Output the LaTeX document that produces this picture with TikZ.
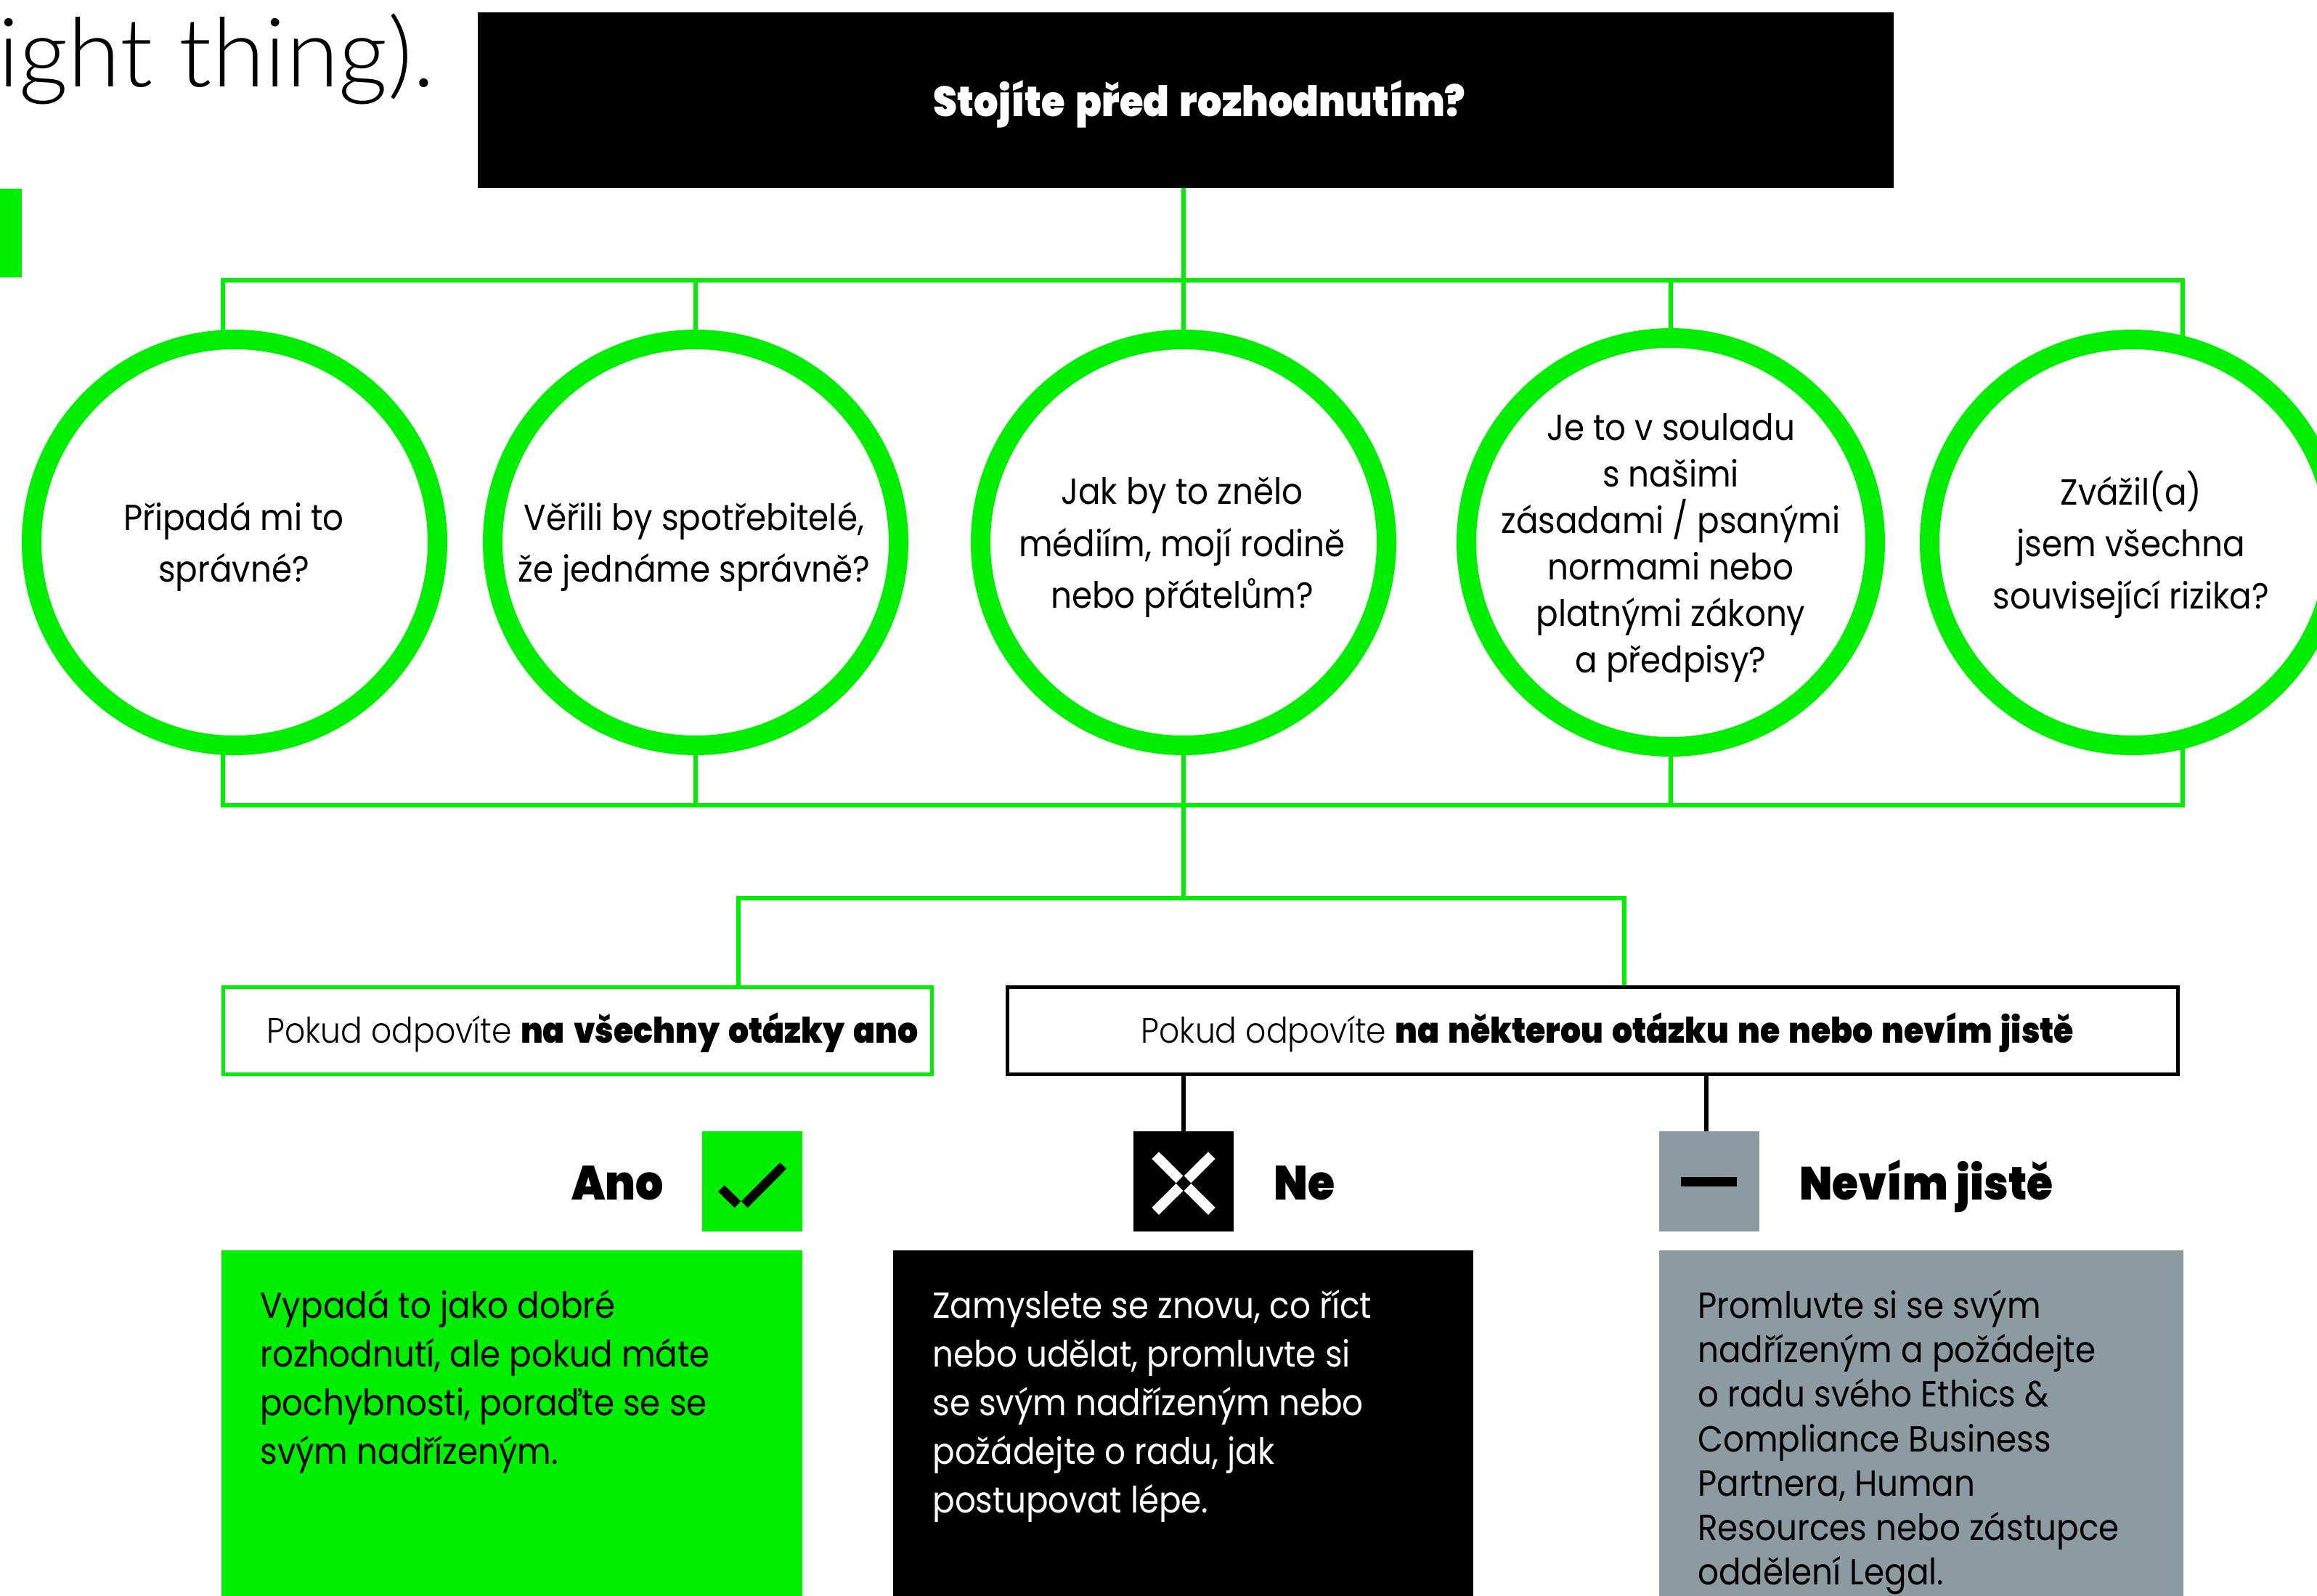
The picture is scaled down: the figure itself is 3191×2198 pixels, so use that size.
\documentclass[tikz,border=0pt]{standalone}
\usepackage{fontspec}
\usetikzlibrary{backgrounds}
\setmainfont[FakeStretch=0.905]{Poppins}
\newfontfamily\lightfont[FakeStretch=0.907]{Poppins Light}
\newfontfamily\heavy[FakeStretch=0.91,WordSpace=1.6]{Poppins Black}
\newfontfamily\headfont{Lato Light}
\definecolor{brandgreen}{HTML}{00EE00}
\definecolor{brandgrey}{HTML}{8C9AA1}
\tikzset{
  solidbox/.style={draw=none,inner sep=0pt,outer sep=0pt},
  ring/.style={circle,draw=brandgreen,fill=white,line width=13.5pt,inner sep=0pt,outer sep=0pt,
    minimum size=279.5pt},
  ringtext/.style={inner sep=0pt,align=center,font=\fontsize{25}{35.7}\selectfont},
  outline/.style={draw,fill=white,line width=2.75pt,inner sep=0pt,outer sep=0pt,minimum height=60pt},
  wire/.style={draw=brandgreen,line width=2.75pt},
  blackwire/.style={draw=black,line width=2.75pt},
  bodytext/.style={inner sep=0pt,align=left,anchor=north west},
  labeltext/.style={inner sep=0pt,anchor=base,font=\lightfont\fontsize{24.3}{30}\selectfont},
  bigword/.style={inner sep=0pt,font=\heavy\fontsize{33}{40}\selectfont},
}
\begin{document}
\begin{tikzpicture}[x=0.5pt,y=-0.5pt]
\useasboundingbox (0,0) rectangle (3191,2198);
% heading fragment and accent
\node[inner sep=0pt,anchor=base east,font=\headfont\fontsize{66}{70}\selectfont] (head) at (599,120) {ight thing).};
\node[solidbox,fill=brandgreen,minimum width=15pt,minimum height=61pt,anchor=north west] (accent) at (0,260) {};
% title
\node[solidbox,fill=black,minimum width=975pt,minimum height=121pt,anchor=north west] (title) at (658,17) {};
\node[inner sep=0pt,anchor=base,text=white,font=\heavy\fontsize{29}{32}\selectfont] (titletext) at (1652,161) {Stojíte před rozhodnutím?};
% circles
\node[ring] (c1) at (323,747) {};
\node[ring] (c2) at (958,747) {};
\node[ring] (c3) at (1630,747) {};
\node[ring,minimum size=281.5pt] (c4) at (2301,747) {};
\node[ring] (c5) at (2937,747) {};
\node[ringtext] (t1) at (322,753) {Připadá mi to\\správné?};
\node[ringtext] (t2) at (956,753) {Věřili by spotřebitelé,\\že jednáme správně?};
\node[ringtext] (t3) at (1628,754) {Jak by to znělo\\médiím, mojí rodině\\nebo přátelům?};
\node[ringtext,font=\fontsize{25}{32}\selectfont] (t4) at (2301,754) {Je to v souladu\\s našimi\\zásadami / psanými\\normami nebo\\platnými zákony\\a předpisy?};
\node[ringtext] (t5) at (2935,750) {Zvážil(a)\\jsem všechna\\související rizika?};
% decision labels
\node[outline,draw=brandgreen,minimum width=488pt,anchor=north west] (yesbox) at (307.5,1359.5) {};
\node[outline,draw=black,minimum width=806pt,anchor=north west] (nobox) at (1387.5,1359.5) {};
\node[labeltext] (yeslabel) at (816,1436) {Pokud odpovíte {\heavy na všechny otázky ano}};
\node[labeltext] (nolabel) at (2214,1436) {Pokud odpovíte {\heavy na některou otázku ne nebo nevím jistě}};
% icons
\node[solidbox,fill=brandgreen,minimum size=69pt,anchor=north west] (iyes) at (967,1558) {};
\node[solidbox,fill=black,minimum size=69pt,anchor=north west] (ino) at (1561,1558) {};
\node[solidbox,fill=brandgrey,minimum size=69pt,anchor=north west] (idk) at (2285,1558) {};
\fill[black] (989,1641) -- (997.7,1632.3) -- (1020.3,1654.3) -- (1011.7,1663.3) -- cycle;
\fill[black] (1021,1654.3) -- (1074.3,1601) -- (1083,1609.7) -- (1029.7,1663.3) -- cycle;
\fill[white] (1586.3,1596) -- (1596,1586.3) -- (1629.3,1619.3) -- (1619.7,1629.3) -- cycle;
\fill[white] (1664,1586.3) -- (1673.7,1596) -- (1640.3,1629.3) -- (1630.7,1619.3) -- cycle;
\fill[white] (1586.3,1663) -- (1596,1673) -- (1629.3,1640) -- (1619.7,1630) -- cycle;
\fill[white] (1664,1673) -- (1673.7,1663) -- (1640.3,1630) -- (1630.7,1640) -- cycle;
\fill[black] (2315,1621) rectangle (2392,1634);
\node[bigword,anchor=base east] (ano) at (914,1652) {Ano};
\node[bigword,anchor=base west] (ne) at (1754,1652) {Ne};
\node[bigword,anchor=base west,font=\heavy\fontsize{32}{40}\selectfont] (nevim) at (2478,1652) {Nevím\hspace{-2pt} jistě};
% panels
\node[solidbox,fill=brandgreen,minimum width=400pt,minimum height=240pt,anchor=north west] (pyes) at (305,1722) {};
\node[solidbox,fill=black,minimum width=399.5pt,minimum height=240pt,anchor=north west] (pno) at (1230,1722) {};
\node[solidbox,fill=brandgrey,minimum width=361pt,minimum height=240pt,anchor=north west] (pdk) at (2285,1722) {};
\node[bodytext,font=\fontsize{25}{33.5}\selectfont] (tyes) at (358,1776) {Vypadá to jako dobré\\rozhodnutí, ale pokud máte\\pochybnosti, poraďte se se\\svým nadřízeným.};
\node[bodytext,text=white,font=\fontsize{25}{33.5}\selectfont] (tno) at (1284,1776) {Zamyslete se znovu, co říct\\nebo udělat, promluvte si\\se svým nadřízeným nebo\\požádejte o radu, jak\\postupovat lépe.};
\node[bodytext,font=\fontsize{25}{30.6}\selectfont] (tdk) at (2338,1776) {Promluvte si se svým\\nadřízeným a požádejte\\o radu svého Ethics \&\\Compliance Business\\Partnera, Human\\Resources nebo zástupce\\oddělení Legal.};
% connectors behind everything
\begin{pgfonlayer}{background}
\coordinate (topl) at (307,386);
\coordinate (topr) at (3006,386);
\coordinate (botl) at (307,1109);
\coordinate (botr) at (3006,1109);
\coordinate (forkl) at (1017,1237);
\coordinate (forkr) at (2237,1237);
\draw[wire] (title.south -| c3) -- (c3.center);
\draw[wire,line join=miter] (topl |- c1.center) -- (topl) -- (topr) -- (topr |- c5.center);
\draw[wire] (c2.center) -- (c2 |- topl);
\draw[wire] (c4.center) -- (c4 |- topl);
\draw[wire,line join=miter] (topl |- c1.center) -- (botl) -- (botr) -- (topr |- c5.center);
\draw[wire] (c2.center) -- (c2 |- botl);
\draw[wire,shorten >=-1.5pt] (c4.center) -- (c4 |- botl);
\draw[wire] (c3.center) -- (c3 |- forkl);
\draw[wire,line join=miter] (forkl |- yesbox.north) -- (forkl) -- (forkr) -- (forkr |- nobox.north);
\draw[blackwire] (nobox.south -| c3) -- (ino.north -| c3);
\coordinate (nowire) at (2350,1481);
\draw[blackwire] (nowire) -- (nowire |- idk.north);
\end{pgfonlayer}
\end{tikzpicture}
\end{document}
